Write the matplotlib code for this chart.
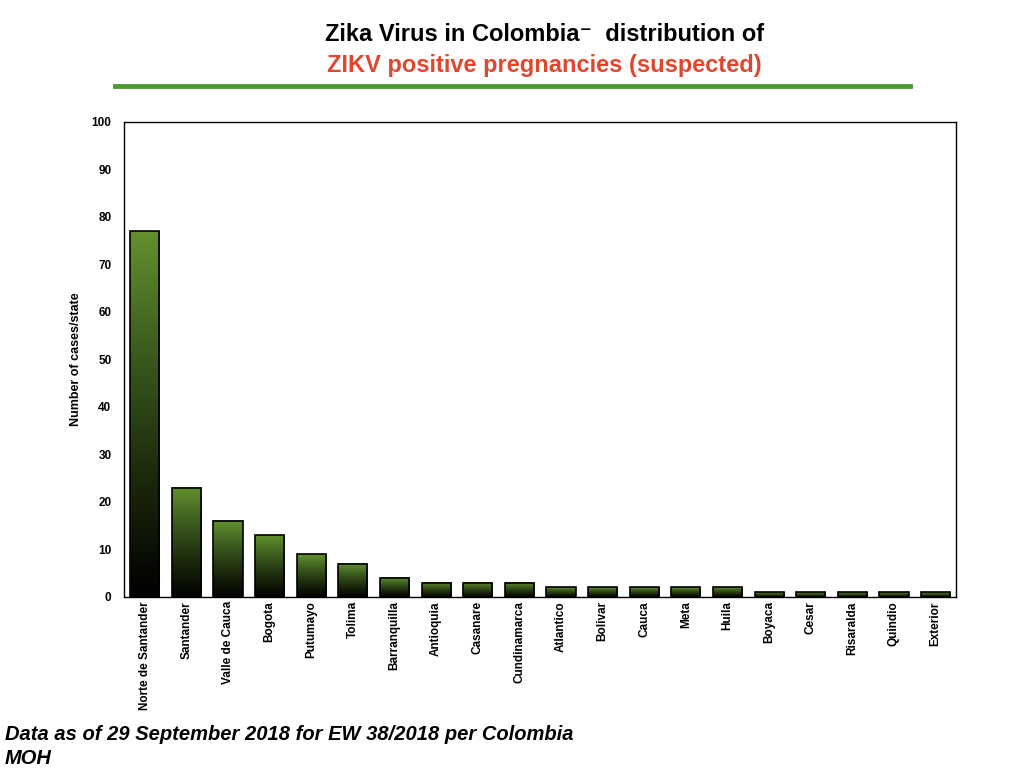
import matplotlib
matplotlib.use("Agg")
import matplotlib.pyplot as plt
import numpy as np
from matplotlib.colors import LinearSegmentedColormap

plt.rcParams["font.family"] = ["Liberation Sans", "DejaVu Sans"]

states = ["Norte de Santander", "Santander", "Valle de Cauca", "Bogota", "Putumayo",
          "Tolima", "Barranquilla", "Antioquia", "Casanare", "Cundinamarca",
          "Atlantico", "Bolivar", "Cauca", "Meta", "Huila",
          "Boyaca", "Cesar", "Risaralda", "Quindio", "Exterior"]
cases = [77, 23, 16, 13, 9, 7, 4, 3, 3, 3, 2, 2, 2, 2, 2, 1, 1, 1, 1, 1]
yticks = list(range(0, 101, 10))

fig = plt.figure(figsize=(10.24, 7.68), dpi=100)
ax = fig.add_axes([0.121, 0.2227, 0.813, 0.6185])

cmap = LinearSegmentedColormap.from_list("grn", ["#000000", "#1c2a0c", "#3b5a1e", "#62912e"])
grad = np.linspace(0, 1, 256).reshape(-1, 1)
width = 0.7
x = np.arange(len(states))
bars = ax.bar(x, cases, width=width, color="none", edgecolor="black", linewidth=1.2, zorder=3)
for b in bars:
    x0, y0 = b.get_x(), b.get_y()
    ax.imshow(grad, extent=[x0, x0 + b.get_width(), y0, y0 + b.get_height()],
              origin="lower", cmap=cmap, aspect="auto", zorder=2)

ax.set_xlim(-0.5, len(states) - 0.5)
ax.set_ylim(0, 100)
ax.set_yticks(yticks)
ax.set_xticks(x)
ax.set_xticklabels(states, rotation=90, fontsize=8.5, fontweight="bold")
ax.tick_params(axis="y", labelsize=8.5, length=0, pad=9)
ax.tick_params(axis="x", length=0, pad=3)
for lab in ax.get_yticklabels():
    lab.set_fontweight("bold")
ax.set_ylabel("Number of cases/state", fontsize=9, fontweight="bold", labelpad=7)
for s in ax.spines.values():
    s.set_linewidth(1.0)

fig.text(0.532, 0.955, "Zika Virus in Colombia\u207b  distribution of", ha="center", va="center",
         fontsize=17, fontweight="bold", color="black")
fig.text(0.532, 0.915, "ZIKV positive pregnancies (suspected)", ha="center", va="center",
         fontsize=17, fontweight="bold", color="#e0472f")
fig.add_artist(plt.Line2D([0.112, 0.889], [0.888, 0.888], color="#4c9a32", lw=3.5))

fig.text(0.005, 0.043, "Data as of 29 September 2018 for EW 38/2018 per Colombia", ha="left",
         va="center", fontsize=14.5, fontweight="bold", fontstyle="italic")
fig.text(0.005, 0.013, "MOH", ha="left", va="center", fontsize=14.5, fontweight="bold",
         fontstyle="italic")

fig.savefig("out.png", dpi=100)
